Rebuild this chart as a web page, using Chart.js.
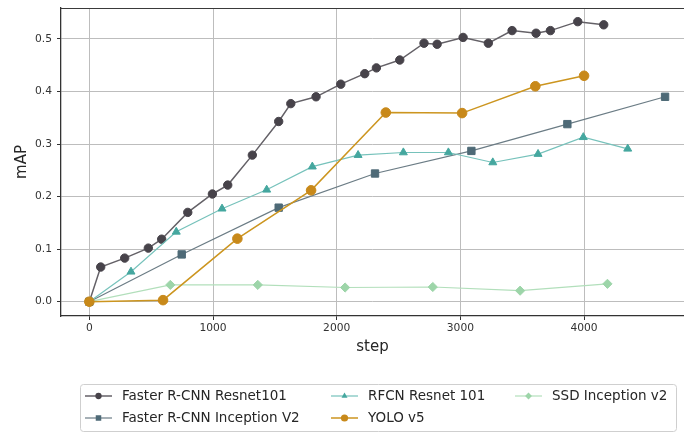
<!DOCTYPE html>
<html><head><meta charset="utf-8">
<script src="https://cdn.jsdelivr.net/npm/chart.js@4.4.1/dist/chart.umd.min.js"></script>
<style>html,body{margin:0;padding:0;background:#fff}#wrap{width:684px;height:432px}</style>
</head><body><div id="wrap"><canvas id="c" width="684" height="432"></canvas></div>
<script>
// ---- data ----
const seriesNames = ["Faster R-CNN Resnet101", "Faster R-CNN Inception V2", "RFCN Resnet 101", "YOLO v5", "SSD Inception v2"];
const resnetSteps = [0, 92, 286, 477, 585, 796, 995, 1119, 1318, 1531, 1629, 1833, 2033, 2227, 2321, 2510, 2706, 2812, 3022, 3226, 3418, 3612, 3728, 3949, 4159];
const resnetMAP   = [0, 0.066, 0.083, 0.102, 0.119, 0.170, 0.205, 0.222, 0.279, 0.343, 0.377, 0.390, 0.414, 0.434, 0.445, 0.460, 0.492, 0.490, 0.503, 0.492, 0.516, 0.511, 0.516, 0.533, 0.527];
const inceptionSteps = [0, 747, 1531, 2310, 3089, 3865, 4655];
const inceptionMAP   = [0, 0.090, 0.179, 0.244, 0.287, 0.338, 0.390];
const rfcnSteps = [0, 337, 703, 1073, 1434, 1803, 2173, 2539, 2903, 3262, 3628, 3994, 4353];
const rfcnMAP   = [0, 0.057, 0.133, 0.177, 0.213, 0.257, 0.279, 0.284, 0.284, 0.265, 0.281, 0.313, 0.291];
const yoloSteps = [0, 596, 1197, 1793, 2397, 3014, 3606, 4000];
const yoloMAP   = [0, 0.003, 0.120, 0.212, 0.360, 0.359, 0.410, 0.430];
const ssdSteps = [0, 655, 1362, 2068, 2777, 3483, 4189];
const ssdMAP   = [0, 0.032, 0.032, 0.027, 0.028, 0.021, 0.034];
const xTickValues = [0, 1000, 2000, 3000, 4000];
const yTickValues = [0.0, 0.1, 0.2, 0.3, 0.4, 0.5];

const pts = (xs, ys) => xs.map((x, i) => ({x: x, y: ys[i]}));

const styles = [
  {line: '#646167', pt: '#47434a', style: 'circle', r: 4.2, lw: 1.5, order: 4},
  {line: '#6b7c85', pt: '#4e6a77', style: 'rect', r: 5.2, lw: 1.2, order: 3},
  {line: '#76c2bb', pt: '#45a79f', style: 'triangle', r: 4.6, lw: 1.2, order: 2},
  {line: '#cc951f', pt: '#c8891a', style: 'circle', r: 4.8, lw: 1.5, order: 0},
  {line: '#b2dfbb', pt: '#9dd5a9', style: 'rectRot', r: 4.6, lw: 1.2, order: 1}
];
const seriesData = [
  pts(resnetSteps, resnetMAP),
  pts(inceptionSteps, inceptionMAP),
  pts(rfcnSteps, rfcnMAP),
  pts(yoloSteps, yoloMAP),
  pts(ssdSteps, ssdMAP)
];

const datasets = seriesNames.map((n, i) => ({
  label: n,
  data: seriesData[i],
  borderColor: styles[i].line,
  backgroundColor: styles[i].pt,
  borderWidth: styles[i].lw,
  pointStyle: styles[i].style,
  pointRadius: styles[i].r,
  pointBackgroundColor: styles[i].pt,
  pointBorderColor: styles[i].pt,
  pointBorderWidth: 1,
  tension: 0,
  fill: false,
  order: styles[i].order
}));

function drawMarker(ctx, style, x, y, r, color) {
  ctx.fillStyle = color;
  ctx.beginPath();
  if (style === 'circle') {
    ctx.arc(x, y, r, 0, Math.PI * 2);
  } else if (style === 'rect') {
    const s = r * Math.SQRT1_2;
    ctx.rect(x - s, y - s, 2 * s, 2 * s);
  } else if (style === 'triangle') {
    ctx.moveTo(x, y - r);
    ctx.lineTo(x + r * 0.866, y + r * 0.5);
    ctx.lineTo(x - r * 0.866, y + r * 0.5);
    ctx.closePath();
  } else if (style === 'rectRot') {
    ctx.moveTo(x, y - r); ctx.lineTo(x + r, y); ctx.lineTo(x, y + r); ctx.lineTo(x - r, y); ctx.closePath();
  }
  ctx.fill();
}

const frameAndLegend = {
  id: 'frameAndLegend',
  afterDatasetsDraw(chart) {
    const ctx = chart.ctx, a = chart.chartArea;
    ctx.save();
    ctx.strokeStyle = '#3a3a3a';
    ctx.lineWidth = 1.2;
    ctx.beginPath();
    ctx.moveTo(a.left, a.top + 0.5);
    ctx.lineTo(a.right, a.top + 0.5);
    ctx.stroke();
    ctx.restore();
  },
  afterDraw(chart) {
    const ctx = chart.ctx;
    ctx.save();
    const bx = 80.5, by = 384.5, bw = 596, bh = 47, rr = 3;
    ctx.beginPath();
    ctx.moveTo(bx + rr, by);
    ctx.lineTo(bx + bw - rr, by); ctx.quadraticCurveTo(bx + bw, by, bx + bw, by + rr);
    ctx.lineTo(bx + bw, by + bh - rr); ctx.quadraticCurveTo(bx + bw, by + bh, bx + bw - rr, by + bh);
    ctx.lineTo(bx + rr, by + bh); ctx.quadraticCurveTo(bx, by + bh, bx, by + bh - rr);
    ctx.lineTo(bx, by + rr); ctx.quadraticCurveTo(bx, by, bx + rr, by);
    ctx.closePath();
    ctx.fillStyle = '#ffffff';
    ctx.fill();
    ctx.strokeStyle = '#cfcfcf';
    ctx.lineWidth = 1;
    ctx.stroke();
    const cols = [85, 331, 515];
    const rows = [396, 418];
    const order = [[0, 0], [0, 1], [1, 0], [1, 1], [2, 0]];
    ctx.font = '13.5px "DejaVu Sans"';
    ctx.textBaseline = 'middle';
    ctx.textAlign = 'left';
    chart.data.datasets.forEach((ds, i) => {
      const cx = cols[order[i][0]], cy = rows[order[i][1]];
      const st = styles[i];
      ctx.strokeStyle = st.line;
      ctx.lineWidth = st.lw;
      ctx.beginPath();
      ctx.moveTo(cx, cy); ctx.lineTo(cx + 27, cy);
      ctx.stroke();
      drawMarker(ctx, st.style, cx + 13.5, cy, st.r * 0.75, st.pt);
      ctx.fillStyle = '#262626';
      ctx.fillText(ds.label, cx + 37, cy);
    });
    ctx.restore();
  }
};

new Chart(document.getElementById('c'), {
  type: 'line',
  data: {datasets: datasets},
  plugins: [frameAndLegend],
  options: {
    responsive: false,
    animation: false,
    devicePixelRatio: 1,
    layout: {autoPadding: false, padding: {top: 8, right: 0, bottom: 72, left: 0}},
    plugins: {legend: {display: false}, tooltip: {enabled: false}},
    scales: {
      x: {
        type: 'linear',
        min: -229, max: 4808,
        afterBuildTicks: s => { s.ticks = xTickValues.map(v => ({value: v})); },
        afterFit: s => { s.height = 44; s.paddingLeft = 0; s.paddingRight = 0; },
        grid: {color: '#bdbdbd', lineWidth: 1, tickLength: 4, tickColor: '#333', drawTicks: true},
        border: {color: '#333', width: 1.3},
        ticks: {font: {family: 'DejaVu Sans', size: 10.7}, color: '#333', padding: 2, maxRotation: 0,
                callback: v => String(v)},
        title: {display: true, text: 'step', font: {family: 'DejaVu Sans', size: 15}, color: '#262626',
                padding: {top: 0, bottom: 4}}
      },
      y: {
        type: 'linear',
        min: -0.0272, max: 0.559,
        afterBuildTicks: s => { s.ticks = yTickValues.map(v => ({value: v})); },
        afterFit: s => { s.width = 61; s.paddingTop = 0; s.paddingBottom = 0; },
        grid: {color: '#bdbdbd', lineWidth: 1, tickLength: 4, tickColor: '#333', drawTicks: true},
        border: {color: '#333', width: 1.3},
        ticks: {font: {family: 'DejaVu Sans', size: 10.7}, color: '#333', padding: 5,
                callback: v => Number(v).toFixed(1)},
        title: {display: true, text: 'mAP', font: {family: 'DejaVu Sans', size: 15}, color: '#262626',
                padding: {top: 13, bottom: 0}}
      }
    }
  }
});
</script>
</body></html>
